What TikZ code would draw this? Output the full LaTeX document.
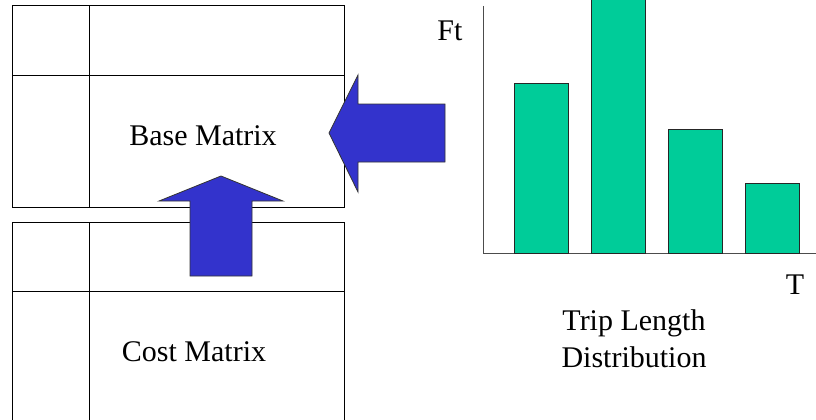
\documentclass[tikz,border=0pt]{standalone}
\usepackage{fontspec}
\setmainfont{Liberation Serif}
\newfontfamily\labelfont{Liberation Serif}
\definecolor{arrowblue}{RGB}{51,51,204}
\definecolor{bargreen}{RGB}{0,204,153}

\begin{document}
\begin{tikzpicture}[
	x = 1pt, y = -1pt,
	every node/.style = {font = \labelfont\fontsize{30}{37}\selectfont, inner sep = 0pt},
	grid/.style = {draw, line width = 1pt},
	fat/.style = {draw = black!80, fill = arrowblue, line width = 0.8pt},
	bar/.style = {draw = black!85, fill = bargreen, line width = 1pt},
	axis/.style = {draw = black!70, line width = 1pt}
	]
	\useasboundingbox (0,0) rectangle (816,420);
	% base matrix
	\draw[grid] (12,6) rectangle (344,207);
	\draw[grid] (89,6) -- (89,207) (12,75) -- (344,75);
	\node[anchor = base] (base) at (203,145) {Base Matrix};
	% cost matrix, open at the bottom
	\draw[grid] (12,430) -- (12,222) -- (344,222) -- (344,430);
	\draw[grid] (89,222) -- (89,430) (12,291) -- (344,291);
	\node[anchor = base] (cost) at (194,361) {Cost Matrix};
	% block arrows
	\draw[fat] (190,276) -- (190,201) -- (159,201) -- (221,176) -- (283,201)
		-- (252,201) -- (252,276) -- cycle;
	\draw[fat] (445,104) -- (358,104) -- (358,75) -- (329,133) -- (358,192)
		-- (358,162) -- (445,162) -- cycle;
	% histogram
	\draw[axis] (483,6) -- (483,253) -- (820,253);
	\foreach \xl/\top in {514/83, 591/-5, 668/129, 745/183}
		\draw[bar] (\xl,253) rectangle (\xl+54,\top);
	\node[anchor = base] (ft) at (450,41) {Ft};
	\node[anchor = base] (t) at (795,294) {T};
	\node[anchor = base, align = center] (tld) at (634,367) {Trip Length\\Distribution};
\end{tikzpicture}
\end{document}
